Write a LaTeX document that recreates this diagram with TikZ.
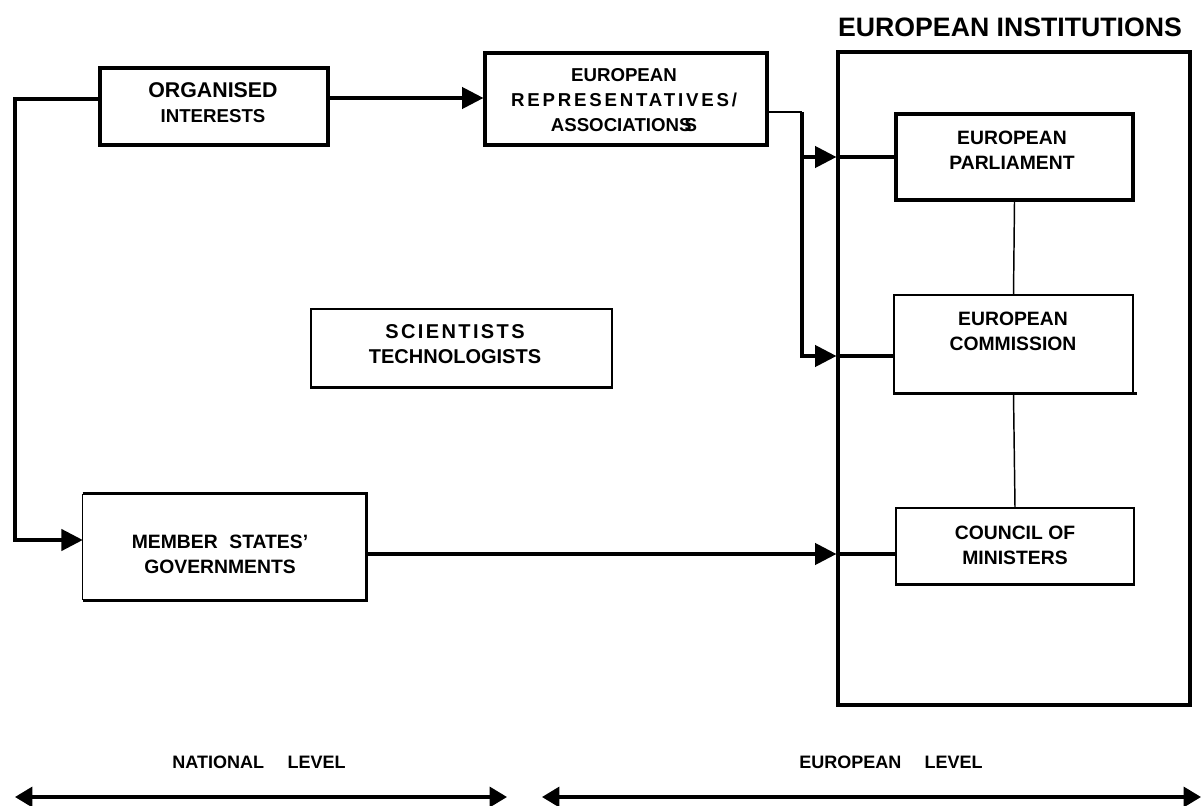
\documentclass[tikz,border=0pt]{standalone}
\usepackage{fontspec}
\setmainfont{Liberation Sans}
\usetikzlibrary{arrows.meta,calc}
\tikzset{
  thk/.style={line width=2.4pt},
  thn/.style={line width=1.1pt},
  bx/.style 2 args={minimum width=#1*0.75pt, minimum height=#2*0.75pt, inner sep=0pt, rectangle},
  box/.style={draw, thk},
  tbox/.style={draw, thn},
  lbl/.style={align=center, inner sep=0pt, font=\bfseries\fontsize{14.5}{18.75}\selectfont},
  conn/.style={thk},
  arr/.style={thk, -{Triangle[length=16pt,width=16pt]}},
  lvl/.style={thk, {Triangle[length=13pt,width=15pt]}-{Triangle[length=13pt,width=15pt]}},
}
\begin{document}
\begin{tikzpicture}[x=0.75pt,y=-0.75pt]
\useasboundingbox (0,0) rectangle (1203,806);

% title
\node[font=\bfseries\fontsize{20}{24}\selectfont, inner sep=0pt] (title) at (1010,27) {EUROPEAN INSTITUTIONS};

% boxes
\node[box, bx={228}{77}] (org) at (214,106.5) {};
\node[lbl] (orgT) at (213,102.5) {{\fontsize{16}{18.75}\selectfont ORGANISED}\\{\fontsize{14}{18.75}\selectfont INTERESTS}};

\node[box, bx={282}{92}] (rep) at (626,99) {};
\node[lbl, font=\bfseries\fontsize{14}{18.75}\selectfont] (repT) at (624,100)
  {EUROPEAN\\{\addfontfeature{LetterSpace=15}REPRESENTATIVES/}\\ASSOCIATION\makebox[0.3em][l]{S}S};

\node[tbox, bx={301}{78}] (sci) at (461.5,348) {};
\draw[thk] (sci.south west) -- (sci.south east);
\node[lbl, font=\bfseries\fontsize{15}{18.75}\selectfont] (sciT) at (455,344.5) {{\addfontfeature{LetterSpace=12}SCIENTISTS}\\TECHNOLOGISTS};

\node[bx={283}{106}] (mem) at (224.5,547) {};
\draw[thk] (mem.north west) -- (mem.north east) -- (mem.south east) -- (mem.south west);
\draw[thn] (mem.north west) -- (mem.south west);
\node[lbl] (memT) at (220,554.5) {MEMBER\hspace{0.6em}STATES’\\GOVERNMENTS};

\node[box, bx={352}{653}] (inst) at (1014,378.5) {};

\node[box, bx={237}{86}] (parl) at (1014.5,157) {};
\node[lbl] (parlT) at (1012,150) {EUROPEAN\\PARLIAMENT};

\node[tbox, bx={239}{98}] (com) at (1013.5,344) {};
\draw[thk] (com.south west) -- ($(com.south east)+(3,0)$);
\node[lbl] (comT) at (1013,331) {EUROPEAN\\COMMISSION};

\node[tbox, bx={238}{76}] (cou) at (1015,546) {};
\draw[thk] (cou.south west) -- (cou.south east);
\node[lbl] (couT) at (1015,545) {COUNCIL OF\\MINISTERS};

% connectors
\coordinate (yA) at (0,99);
\coordinate (lc) at (15,540);
\draw[arr] (org.west |- yA) -| (lc) -- (mem.west |- lc);

\coordinate (yB) at (0,98);
\draw[arr] (org.east |- yB) -- (rep.west |- yB);

\coordinate (bt) at (802,112);
\coordinate (bb) at (802,356);
\draw[thn] (rep.east |- bt) -- (bt);
\draw[arr] (bt) -- (bb) -- (inst.west |- bb);
\draw[conn] (inst.west |- bb) -- (com.west |- bb);
\draw[arr] (bt |- parl.west) -- (inst.west |- parl.west);
\draw[conn] (inst.west |- parl.west) -- (parl.west);

\coordinate (yC) at (0,554);
\draw[arr] (mem.east |- yC) -- (inst.west |- yC);
\draw[conn] (inst.west |- yC) -- (cou.west |- yC);

\draw[thn] (parl.south) -- (com.north);
\draw[thn] (com.south) -- (cou.north);

% levels
\node[font=\bfseries\fontsize{13.5}{16}\selectfont, inner sep=0pt] (nat) at (259,762) {NATIONAL\hspace{1.3em}LEVEL};
\node[font=\bfseries\fontsize{13.5}{16}\selectfont, inner sep=0pt] (eur) at (891,762) {EUROPEAN\hspace{1.3em}LEVEL};
\coordinate (n1) at (15,797);
\coordinate (n2) at (507,797);
\coordinate (e1) at (542,797);
\coordinate (e2) at (1201,797);
\draw[lvl] (n1) -- (n2);
\draw[lvl] (e1) -- (e2);
\end{tikzpicture}
\end{document}
